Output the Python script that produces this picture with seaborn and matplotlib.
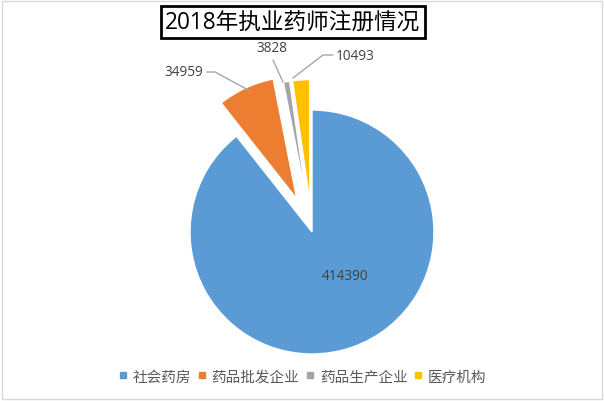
import matplotlib
matplotlib.use("Agg")
import matplotlib.pyplot as plt
import seaborn as sns
from matplotlib.lines import Line2D
from matplotlib.patches import Rectangle

categories = ["社会药房", "药品批发企业", "药品生产企业", "医疗机构"]
values = [414390, 34959, 3828, 10493]
colors = ["#5B9BD5", "#ED7D31", "#A5A5A5", "#FFC000"]
explode = [0.0, 0.30, 0.25, 0.25]
title = "2018年执业药师注册情况"

sns.set_theme(style="white")
plt.rcParams["font.family"] = ["Open Sans", "Noto Sans CJK SC", "DejaVu Sans"]

W, H = 604, 402
fig = plt.figure(figsize=(W / 100, H / 100), dpi=100)
fig.patch.set_facecolor("white")

# pie centre at pixel (312, 233), radius 122 px
cx, cy, R = 312, 233, 122
ax = fig.add_axes([0, 0, 1, 1])
wedges, _ = ax.pie(values, colors=sns.color_palette(colors), startangle=90,
                   counterclock=False, explode=explode, radius=1,
                   wedgeprops=dict(edgecolor="white", linewidth=1.0))
ax.set_xlim(-cx / R, (W - cx) / R)
ax.set_ylim(-(H - cy) / R, cy / R)
ax.set_aspect("auto")
ax.axis("off")


def fx(px):
    return px / W


def fy(py):
    return 1 - py / H


lab_color = "#404040"
line_color = "#A6A6A6"

# data labels
fig.text(fx(345), fy(277), f"{values[0]}", ha="center", va="center",
         fontsize=9.8, color=lab_color)
fig.text(fx(184), fy(73), f"{values[1]}", ha="center", va="center",
         fontsize=9.8, color=lab_color)
fig.text(fx(272), fy(49), f"{values[2]}", ha="center", va="center",
         fontsize=9.8, color=lab_color)
fig.text(fx(355), fy(57), f"{values[3]}", ha="center", va="center",
         fontsize=9.8, color=lab_color)

# leader lines
for pts in ([(207, 73), (215, 73), (250, 92)],
            [(273, 61), (283, 83)],
            [(333, 56), (323, 56), (293, 79)]):
    fig.add_artist(Line2D([fx(p[0]) for p in pts], [fy(p[1]) for p in pts],
                          color=line_color, linewidth=1.0))

# title in box
fig.text(fx(293), fy(23), title, ha="center", va="center", fontsize=16.3,
         color="black",
         bbox=dict(boxstyle="square,pad=0.18", facecolor="white",
                   edgecolor="black", linewidth=2))

# legend
handles = [Line2D([], [], marker="s", linestyle="none", markersize=5,
                  markerfacecolor=c, markeredgecolor=c) for c in colors]
fig.legend(handles, categories, loc="center", ncol=4,
           bbox_to_anchor=(fx(303), fy(378)), frameon=False,
           fontsize=10.5, labelcolor="#595959", handlelength=0.5,
           handletextpad=0.4, columnspacing=0.5, borderpad=0)

# faint border around the picture
fig.add_artist(Rectangle((fx(2), fy(400)), fx(600), 398 / H,
                         transform=fig.transFigure, fill=False,
                         edgecolor="#D9D9D9", linewidth=1))

fig.savefig("out.png", dpi=100)
